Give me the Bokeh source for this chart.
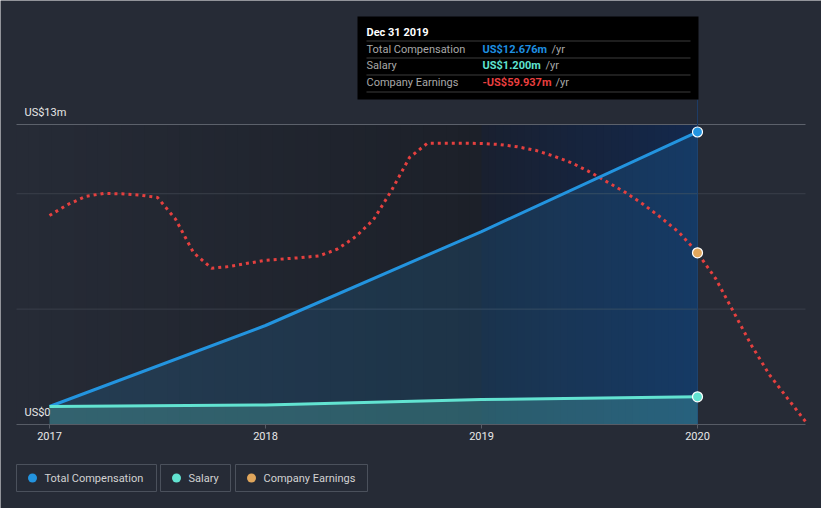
import numpy as np
from bokeh.plotting import figure
from bokeh.models import Range1d, LinearAxis, FixedTicker
from bokeh.core.properties import value
from bokeh.embed import file_html
from bokeh.resources import INLINE

# ---------------- data ----------------
# fiscal year ends (Dec 31 2016 .. Dec 31 2019) plotted at the start of the next year
comp_years = [2017.0, 2018.0, 2019.0, 2020.0]
total_comp = [0.78, 4.29, 8.36, 12.676]      # US$ m
salary = [0.78, 0.85, 1.08, 1.200]           # US$ m

# company earnings (US$ m, trailing), one reading per month after Dec 31 2016
earn_month = list(range(43))
earnings = [-43.15, -38.29, -34.56, -33.25, -33.39, -33.93, -35.05, -44.77, -59.85,
            -66.87, -66.10, -64.66, -63.31, -62.68, -62.10, -61.29, -58.23, -52.74,
            -45.04, -31.90, -17.05, -10.62, -10.62, -10.62, -10.75, -11.20, -12.24,
            -13.81, -16.38, -19.44, -23.49, -28.12, -32.76, -38.20, -44.28, -50.94,
            -59.937, -71.41, -86.49, -101.61, -114.84, -125.41, -135.85]
earn_x = [2017 + m / 12 for m in earn_month]

x_ticks = [2017, 2018, 2019, 2020]
y_label_values = [0, 13]
y_label_texts = ["US$0", "US$13m"]
grid_values = [5, 10]
series_names = ["Total Compensation", "Salary", "Company Earnings"]
tooltip_title = "Dec 31 2019"

# ---------------- layout helpers (pixel -> data) ----------------
W, H = 821, 508
PX_YEAR = 216.0
X0_PX = 49.0          # pixel of 2017
Y0_PX = 424.0         # pixel of US$0
PX_M = 300.0 / 13.0   # pixels per US$1m
E_BOTTOM = -137.2     # earnings scale value at US$0 line
E_PER_PX = 0.45
PLOT_L, PLOT_R = 16, 805


def dx(px):
    return 2017 + (px - X0_PX) / PX_YEAR


def dy(py):
    return (Y0_PX - py) / PX_M


def de(py):
    return E_BOTTOM + E_PER_PX * (Y0_PX - py)


BG = "#262b36"
BLUE = "#2394df"
TEAL = "#62e3d1"
ORANGE = "#e0a65c"
RED = "#e5403f"
FONT = value("Roboto")

p = figure(width=W, height=H, x_range=Range1d(dx(0), dx(W)), y_range=Range1d(dy(H), dy(0)),
           x_axis_type=None, y_axis_type=None, toolbar_location=None, output_backend="svg",
           title=None, min_border=0, min_border_left=0, min_border_right=0,
           min_border_top=0, min_border_bottom=0,
           background_fill_color=BG, border_fill_color=BG)
p.outline_line_color = None
p.outline_line_alpha = 0
p.extra_y_ranges = {"earn": Range1d(de(H), de(0))}


def mix(c0, c1, t):
    return "#%02x%02x%02x" % tuple(int(round(a + (b - a) * t)) for a, b in zip(c0, c1))


# background shading: gradient up to previous point, highlight band for hovered year
top_val = y_label_values[-1]
n = 40
edges = np.linspace(PLOT_L, 481, n + 1)
cols = [mix((38, 43, 54), (28, 32, 41), (i + 0.5) / n) for i in range(n)]
p.quad(left=[dx(e) for e in edges[:-1]], right=[dx(e + 0.6) for e in edges[1:]],
       bottom=0, top=top_val, fill_color=cols, line_color=None)
n2 = 30
edges2 = np.linspace(481, 697, n2 + 1)
cols2 = [mix((25, 32, 48), (19, 40, 76), (i + 0.5) / n2) for i in range(n2)]
p.quad(left=[dx(e) for e in edges2[:-1]], right=[dx(min(e + 0.6, 697)) for e in edges2[1:]],
       bottom=0, top=top_val, fill_color=cols2, line_color=None)

# grid lines and top (US$13m) line
p.segment(x0=[dx(PLOT_L)] * len(grid_values), x1=[dx(PLOT_R)] * len(grid_values),
          y0=grid_values, y1=grid_values, line_color="#3a3f4a", line_width=1)
p.segment(x0=[dx(PLOT_L)], x1=[dx(PLOT_R)], y0=[top_val], y1=[top_val],
          line_color="#5c616b", line_width=1)

# x axis at US$0
xaxis = LinearAxis(ticker=FixedTicker(ticks=x_ticks), fixed_location=0,
                   bounds=(dx(PLOT_L), dx(PLOT_R)))
xaxis.major_label_overrides = {t: str(t) for t in x_ticks}
xaxis.axis_line_color = "#575c66"
xaxis.major_tick_line_color = "#575c66"
xaxis.major_tick_in = 0
xaxis.major_tick_out = 4
xaxis.minor_tick_line_color = None
xaxis.major_label_text_color = "#e8e8e8"
xaxis.major_label_text_font = "Roboto"
xaxis.major_label_text_font_size = "11px"
xaxis.major_label_standoff = 3
p.add_layout(xaxis, "below")

# y labels
p.text(x=[dx(24)] * len(y_label_values), y=y_label_values, text=y_label_texts,
       text_font=FONT, text_font_size="11px", text_color="#e8e8e8",
       text_align="left", text_baseline="middle", y_offset=-12)

# hover line
p.segment(x0=[comp_years[-1]], x1=[comp_years[-1]], y0=[0], y1=[dy(99)],
          line_color="#1d3c66", line_width=1)

# areas
p.varea(x=comp_years, y1=[0] * len(comp_years), y2=total_comp, fill_color=BLUE, fill_alpha=0.17)
p.varea(x=comp_years, y1=[0] * len(comp_years), y2=salary, fill_color="#5fd6c6", fill_alpha=0.25)

# lines
p.line(earn_x, earnings, y_range_name="earn", line_color=RED, line_width=3, line_dash="3 4")
p.line(comp_years, total_comp, line_color=BLUE, line_width=3)
p.line(comp_years, salary, line_color=TEAL, line_width=3)

# hovered markers
hi = int(np.argmin(np.abs(np.array(earn_x) - comp_years[-1])))
p.scatter([comp_years[-1]], [total_comp[-1]], size=10, fill_color=BLUE, line_color="white", line_width=1.2)
p.scatter([comp_years[-1]], [salary[-1]], size=10, fill_color=TEAL, line_color="white", line_width=1.2)
p.scatter([earn_x[hi]], [earnings[hi]], y_range_name="earn", size=10, fill_color=ORANGE,
          line_color="white", line_width=1.2)

# tooltip
p.quad(left=[dx(357)], right=[dx(698)], top=[dy(16)], bottom=[dy(99)], fill_color="#000000",
       line_color=None)
p.text(x=[dx(366)], y=[dy(31.5)], text=[tooltip_title], text_font=FONT, text_font_size="11px",
       text_font_style="bold", text_color="#ffffff", text_baseline="middle")
sep_y = [40.5, 57.5, 74.5, 91.5]
p.segment(x0=[dx(366)] * 4, x1=[dx(690)] * 4, y0=[dy(s) for s in sep_y], y1=[dy(s) for s in sep_y],
          line_color="#3c3c3c", line_width=1)
row_y = [48.5, 65.0, 82.0]
p.text(x=[dx(366)] * 3, y=[dy(r) for r in row_y], text=series_names, text_font=FONT,
       text_font_size="11px", text_color="#a8a8a8", text_baseline="middle")


def money(v):
    return ("-" if v < 0 else "") + "US$%.3fm" % abs(v)


vals = [money(total_comp[-1]), money(salary[-1]), money(earnings[hi])]
p.text(x=[dx(482)] * 3, y=[dy(r) for r in row_y], text=vals, text_font=FONT,
       text_font_size="11px", text_font_style="bold", text_color=["#1e8fe0", "#5fe3d0", "#ea3f3f"],
       text_baseline="middle")
p.text(x=[dx(551), dx(545), dx(555)], y=[dy(r) for r in row_y], text=["/yr"] * 3, text_font=FONT,
       text_font_size="11px", text_color="#a8a8a8", text_baseline="middle")

# legend boxes
box_l = [16, 160, 235]
box_r = [156, 230, 367]
p.quad(left=[dx(v) for v in box_l], right=[dx(v) for v in box_r], top=[dy(464)] * 3,
       bottom=[dy(491)] * 3, fill_color=None, line_color="#4b515c", line_width=1)
dot_x = [32, 176, 251]
p.scatter([dx(v) for v in dot_x], [dy(477.5)] * 3, size=9, fill_color=[BLUE, TEAL, ORANGE],
          line_color=None)
p.text(x=[dx(44), dx(188), dx(263)], y=[dy(477.5)] * 3, text=series_names, text_font=FONT,
       text_font_size="11px", text_color="#d2d2d2", text_baseline="middle")

html = file_html(p, INLINE)
html = html.replace("<body>", '<body style="margin:0;background:%s">' % BG, 1)
open("out.html", "w").write(html)
